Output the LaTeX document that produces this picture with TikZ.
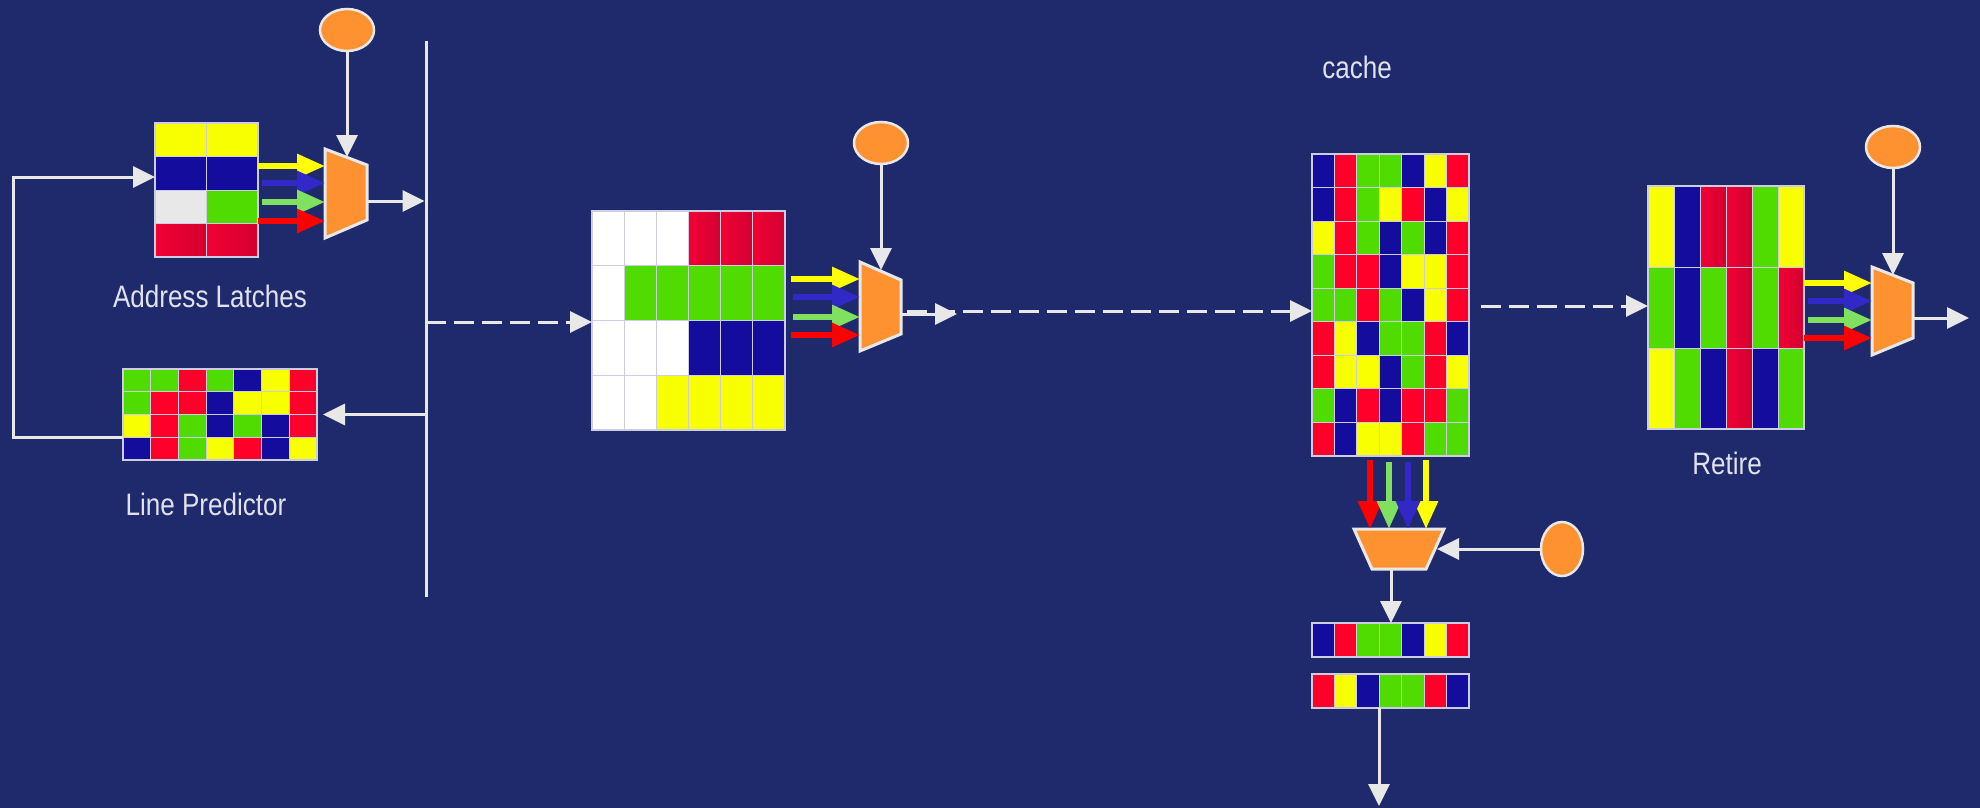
\documentclass[tikz,border=0pt]{standalone}
\usepackage{fontspec}
\newfontfamily\lblfont{Liberation Sans}[FakeStretch=0.84]
\usetikzlibrary{arrows.meta,shapes.geometric}
\definecolor{bg}{RGB}{31,42,108}
\definecolor{cY}{RGB}{248,255,0}
\definecolor{cB}{RGB}{20,12,156}
\definecolor{cG}{RGB}{80,220,0}
\definecolor{cR}{RGB}{255,0,42}
\definecolor{cRa}{RGB}{242,0,52}
\definecolor{cRb}{RGB}{210,0,48}
\definecolor{cW}{RGB}{255,255,255}
\definecolor{cL}{RGB}{232,232,232}
\definecolor{org}{RGB}{255,146,48}
\definecolor{lg}{RGB}{232,232,232}
\definecolor{gridc}{RGB}{205,205,225}
\definecolor{txt}{RGB}{225,225,235}
\definecolor{aY}{RGB}{255,255,0}
\definecolor{aB}{RGB}{50,40,200}
\definecolor{aG}{RGB}{128,224,96}
\definecolor{aR}{RGB}{255,0,0}
\tikzset{
  kY/.style={fill=cY}, kB/.style={fill=cB}, kG/.style={fill=cG}, kR/.style={fill=cR},
  kQ/.style={left color=cRa,right color=cRb}, kW/.style={fill=cW}, kL/.style={fill=cL},
  cellst/.style={draw=gridc,line width=0.8pt},
  tbox/.style={draw=gridc,line width=1.5pt,inner sep=0pt,outer sep=0pt,anchor=north west},
  muxst/.style={fill=org,draw=lg,line width=3pt,line join=miter},
  ellst/.style={ellipse,fill=org,draw=lg,line width=2.5pt,inner sep=0pt},
  wline/.style={draw=lg,line width=3pt},
  warr/.style={wline,-{Triangle[length=22pt,width=21pt]}},
  darr/.style={warr,dash pattern=on 20pt off 8pt},
  carr/.style={draw=#1,line width=6pt,-{Triangle[length=28pt,width=23pt]}},
  lbl/.style={font=\lblfont\fontsize{31}{36}\selectfont,text=txt,inner sep=0pt,anchor=base}
}
% name, x0, y0, total width, total height, cols, rows, colour rows
\newcommand\ctable[8]{%
  \pgfmathsetmacro\cw{#4/#6}%
  \pgfmathsetmacro\ch{#5/#7}%
  \foreach \rw [count=\j from 0] in {#8}{%
    \foreach \c [count=\i from 0] in \rw {%
      \path[cellst,k\c] ({#2+\i*\cw},{#3+\j*\ch}) rectangle ++(\cw,\ch);
    }%
  }%
  \node[tbox,minimum width=#4pt,minimum height=#5pt] (#1) at (#2,#3) {};%
}
\begin{document}
\begin{tikzpicture}[x=1pt,y=-1pt]
\fill[bg] (0,0) rectangle (1980,808);
\useasboundingbox (0,0) rectangle (1980,808);

% tables
\ctable{AL}{155}{123}{103}{134}{2}{4}{{Y,Y},{B,B},{L,G},{Q,Q}}
\ctable{LP}{123}{369}{194}{91}{7}{4}{{G,G,R,G,B,Y,R},{G,R,R,B,Y,Y,R},{Y,R,G,B,G,B,R},{B,R,G,Y,R,B,Y}}
\ctable{MT}{592}{211}{193}{219}{6}{4}{{W,W,W,Q,Q,Q},{W,G,G,G,G,G},{W,W,W,B,B,B},{W,W,Y,Y,Y,Y}}
\ctable{CA}{1312}{154}{157}{302}{7}{9}{{B,R,G,G,B,Y,R},{B,R,G,Y,R,B,Y},{Y,R,G,B,G,B,R},{G,R,R,B,Y,Y,R},{G,G,R,G,B,Y,R},{R,Y,B,G,G,R,B},{R,Y,Y,B,G,R,Y},{G,B,R,B,R,R,G},{R,B,Y,Y,R,G,G}}
\ctable{R1}{1312}{623}{157}{34}{7}{1}{{B,R,G,G,B,Y,R}}
\ctable{R2}{1312}{674}{157}{34}{7}{1}{{R,Y,B,G,G,R,B}}
\ctable{RT}{1648}{186}{156}{243}{6}{3}{{Y,B,Q,Q,G,Y},{G,B,G,Q,G,Q},{Y,G,B,Q,B,G}}

% labels
\node[lbl] (tAL) at (210,307) {Address Latches};
\node[lbl] (tLP) at (206,515) {Line Predictor};
\node[lbl] (tCA) at (1357,78) {cache};
\node[lbl] (tRT) at (1727,474) {Retire};

% select ellipses
\node[ellst,minimum width=54pt,minimum height=42pt] (E1) at (347,30) {};
\node[ellst,minimum width=54pt,minimum height=42pt] (E2) at (881,143) {};
\node[ellst,minimum width=54pt,minimum height=42pt] (E4) at (1893,147) {};
\node[ellst,minimum width=42pt,minimum height=54pt] (E3) at (1562,549) {};

% multiplexers
\path[muxst] (325,149) -- (367,165) -- (367,220) -- (325,238) -- cycle;
\path[muxst] (860,262) -- (901,280) -- (901,334) -- (860,351) -- cycle;
\path[muxst] (1354,529) -- (1444,529) -- (1426,569) -- (1372,569) -- cycle;
\path[muxst] (1872,267) -- (1913,283) -- (1913,338) -- (1872,355) -- cycle;

% coordinates
\coordinate (m1t) at (347,157);
\coordinate (m1a) at (325,166); \coordinate (m1b) at (325,183);
\coordinate (m1c) at (325,202); \coordinate (m1d) at (325,221);
\coordinate (m1o) at (367,201);
\coordinate (m2t) at (881,270);
\coordinate (m2a) at (860,279); \coordinate (m2b) at (860,297);
\coordinate (m2c) at (860,317); \coordinate (m2d) at (860,335);
\coordinate (m2o) at (901,314); \coordinate (m2e) at (957,314);
\coordinate (m4t) at (1893,275);
\coordinate (m4a) at (1872,283); \coordinate (m4b) at (1872,301);
\coordinate (m4c) at (1872,320); \coordinate (m4d) at (1872,338);
\coordinate (m4o) at (1913,318); \coordinate (m4e) at (1969,318);
\coordinate (m3a) at (1370,529); \coordinate (m3b) at (1389,529);
\coordinate (m3c) at (1408,529); \coordinate (m3d) at (1426,529);
\coordinate (m3r) at (1437,549); \coordinate (m3o) at (1391,569);
\coordinate (busT) at (426,41); \coordinate (busB) at (426,597);
\coordinate (lpo) at (123,437); \coordinate (ali) at (155,177);
\coordinate (d2s) at (907,311); \coordinate (d3s) at (1481,306);
\coordinate (outx) at (1379,806);

% bus
\draw[wline] (busT) -- (busB);

% white connectors
\draw[warr] (E1.south) -- (m1t);
\draw[warr] (E2.south) -- (m2t);
\draw[warr] (E4.south) -- (m4t);
\draw[warr] (E3.west) -- (m3r);
\draw[warr,shorten >=1.5pt] (m1o) -- (busT |- m1o);
\draw[warr,shorten >=6pt] (busT |- LP.east) -- (LP.east);
\draw[warr] (lpo) -- ++(-110,0) |- (ali);
\draw[warr] (m2o) -- (m2e);
\draw[warr] (m4o) -- (m4e);
\draw[warr] (m3o) -- (R1.north -| m3o);
\draw[warr] (R2.south -| outx) -- (outx);

% dashed connectors
\draw[darr] (busT |- 0,322) -- (MT.west |- 0,322);
\draw[darr] (d2s) -- (CA.west |- d2s);
\draw[darr] (d3s) -- (RT.west |- d3s);

% coloured arrows
\draw[carr=aY] (AL.east |- m1a) -- (m1a);
\draw[carr=aB,shorten <=4pt] (AL.east |- m1b) -- (m1b);
\draw[carr=aG,shorten <=4pt] (AL.east |- m1c) -- (m1c);
\draw[carr=aR] (AL.east |- m1d) -- (m1d);

\draw[carr=aY,shorten <=6pt] (MT.east |- m2a) -- (m2a);
\draw[carr=aB,shorten <=8pt] (MT.east |- m2b) -- (m2b);
\draw[carr=aG,shorten <=8pt] (MT.east |- m2c) -- (m2c);
\draw[carr=aR,shorten <=6pt] (MT.east |- m2d) -- (m2d);

\draw[carr=aY] (RT.east |- m4a) -- (m4a);
\draw[carr=aB,shorten <=4pt] (RT.east |- m4b) -- (m4b);
\draw[carr=aG,shorten <=4pt] (RT.east |- m4c) -- (m4c);
\draw[carr=aR] (RT.east |- m4d) -- (m4d);

\draw[carr=aY,shorten <=4pt] (CA.south -| m3d) -- (m3d);
\draw[carr=aR,shorten <=4pt] (CA.south -| m3a) -- (m3a);
\draw[carr=aG,shorten <=6pt] (CA.south -| m3b) -- (m3b);
\draw[carr=aB,shorten <=6pt] (CA.south -| m3c) -- (m3c);
\end{tikzpicture}
\end{document}
